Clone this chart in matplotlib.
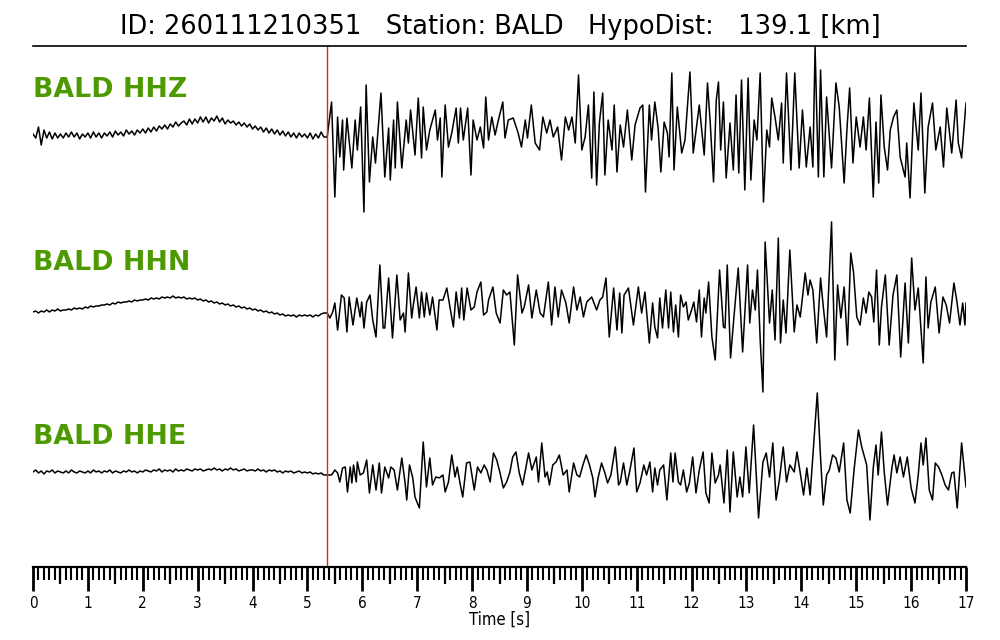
import numpy as np
import matplotlib.pyplot as plt
from matplotlib.ticker import MultipleLocator

title = "ID: 260111210351   Station: BALD   HypoDist:   139.1 [km]"
channels = ["BALD HHZ", "BALD HHN", "BALD HHE"]
pick_time = 5.36
t_end = 17
dt_noise = 0.05

# pre-event noise, one sample every 0.05 s from 0 to 5.30 s
hhz_noise = [1, -3, 8, -10, 5, -3, 3, -4, 2, -3, 1, -3, 2, -2, 3, -2, 2, -4, 1, -2,
             2, -3, 3, -2, 2, -3, 2, -1, 3, -2, 4, 0, 3, -1, 5, 1, 4, 0, 5, 2,
             6, 2, 7, 3, 8, 4, 9, 6, 10, 6, 11, 8, 13, 9, 12, 14, 10, 16, 11, 16,
             12, 18, 13, 18, 12, 17, 14, 19, 13, 17, 11, 15, 12, 14, 10, 13, 9, 12, 8, 11,
             6, 9, 5, 8, 3, 7, 2, 6, 1, 5, 0, 4, -1, 3, -2, 2, -3, 2, -2, 1,
             -3, 2, -4, 1, -3, 3, -2]
hhn_noise = [0, 1, -1, 1, 0, 2, 0, 2, 1, 3, 1, 2, 2, 3, 2, 4, 3, 4, 3, 5,
             4, 6, 5, 6, 6, 7, 7, 8, 7, 9, 8, 10, 9, 10, 10, 11, 10, 12, 11, 12,
             12, 13, 12, 14, 13, 14, 13, 15, 14, 15, 14, 16, 14, 15, 14, 15, 13, 14, 13, 14,
             12, 13, 11, 12, 10, 11, 9, 10, 8, 9, 7, 8, 6, 7, 5, 6, 4, 5, 3, 4,
             2, 3, 1, 2, 0, 1, -1, 0, -2, -1, -3, -2, -4, -3, -4, -3, -5, -3, -4, -3,
             -4, -3, -5, -3, -4, -2, -1]
hhe_noise = [0, 2, -1, 1, -2, 1, 0, 2, -1, 1, 0, -1, 1, -1, 2, 0, -1, 1, 0, -1,
             1, -1, 2, 0, 1, -1, 1, 0, 2, -1, 1, 0, -1, 1, 0, 2, 0, 1, -1, 1,
             0, 2, 1, 0, 2, 1, 3, 0, 2, 1, 2, 0, 3, 1, 2, 1, 3, 2, 1, 3,
             2, 3, 1, 2, 3, 2, 4, 2, 3, 1, 3, 2, 4, 2, 3, 1, 2, 3, 1, 2,
             2, 1, 3, 1, 2, 0, 2, 1, 2, 0, 1, -1, 1, 0, 1, -1, 0, 1, -1, 0,
             -1, 0, -2, -1, -2, -1, -3]

# after the pick: turning points (time [s], amplitude)
hhz_t = [5.36, 5.44, 5.50, 5.55, 5.59, 5.64, 5.66, 5.72, 5.81, 5.87, 5.91, 5.97, 6.03, 6.07, 6.13,
         6.19, 6.24, 6.34, 6.41, 6.48, 6.51, 6.57, 6.60, 6.64, 6.72, 6.80, 6.84, 6.88, 6.96, 7.02,
         7.08, 7.11, 7.17, 7.23, 7.33, 7.37, 7.42, 7.45, 7.51, 7.57, 7.63, 7.71, 7.75, 7.79, 7.84,
         7.92, 7.98, 8.02, 8.09, 8.15, 8.21, 8.25, 8.30, 8.36, 8.42, 8.48, 8.56, 8.60, 8.66, 8.75,
         8.84, 8.90, 8.97, 9.01, 9.08, 9.15, 9.23, 9.29, 9.36, 9.42, 9.48, 9.56, 9.63, 9.70, 9.76,
         9.82, 9.88, 9.94, 10.00, 10.06, 10.12, 10.18, 10.22, 10.27, 10.32, 10.38, 10.42, 10.48, 10.55, 10.59,
         10.64, 10.70, 10.76, 10.83, 10.91, 10.97, 11.06, 11.11, 11.16, 11.23, 11.27, 11.33, 11.39, 11.44, 11.50,
         11.56, 11.59, 11.64, 11.68, 11.74, 11.82, 11.88, 11.97, 12.03, 12.09, 12.14, 12.23, 12.29, 12.34, 12.40,
         12.45, 12.49, 12.53, 12.58, 12.63, 12.70, 12.76, 12.81, 12.86, 12.91, 12.97, 13.03, 13.08, 13.14, 13.19,
         13.25, 13.31, 13.37, 13.42, 13.46, 13.52, 13.58, 13.64, 13.67, 13.73, 13.81, 13.88, 13.96, 14.02, 14.09,
         14.16, 14.21, 14.25, 14.31, 14.35, 14.41, 14.46, 14.55, 14.63, 14.69, 14.78, 14.83, 14.88, 14.94, 15.00,
         15.07, 15.13, 15.18, 15.24, 15.31, 15.36, 15.41, 15.45, 15.51, 15.57, 15.62, 15.68, 15.74, 15.80, 15.89,
         15.92, 15.98, 16.05, 16.13, 16.18, 16.25, 16.31, 16.39, 16.45, 16.53, 16.59, 16.65, 16.74, 16.82, 16.86,
         16.92, 17.00]
hhz_a = [-2, 33, -62, 18, -22, 15, -35, 17, -33, 15, -15, 28, -77, 50, -47,
         -2, -28, 42, -42, 7, -45, 15, -33, 33, -33, 15, -8, 25, -20, 37,
         -23, 28, -15, 5, 25, -5, 17, -42, 30, -12, 2, 27, -8, 27, -5,
         27, -40, 15, -5, 8, -13, 38, -5, 18, 0, 15, 33, -3, 15, 17,
         2, -12, 15, -3, 30, -8, -15, 18, 2, 15, -2, 8, -25, 18, 5,
         18, -8, 60, -15, -2, 30, -43, 43, -50, 12, 42, -40, 15, -15, 30,
         -37, 10, -12, 25, -25, 10, 27, 30, -57, 30, -5, 33, 7, -37, 13,
         2, -22, 62, -35, 28, -18, -5, 63, -18, 8, 30, -20, 52, 12, -47,
         35, 53, -15, 33, -43, 12, -35, 40, -38, 55, -55, 57, -45, 15, -5,
         62, -67, 5, -12, 37, 18, -5, 32, -28, 62, -35, 62, -33, 25, -32,
         8, -32, 88, -42, 65, -42, 38, -33, 52, 28, -48, 5, 47, -28, 18,
         -12, 18, -15, 37, -62, 13, -48, 40, -12, -35, 5, 18, 25, -22, -42,
         -8, -63, 32, -15, 42, -58, 8, 32, -15, 8, -32, 27, -18, 35, -8,
         -23, 32]

hhn_t = [5.36, 5.41, 5.46, 5.50, 5.55, 5.59, 5.62, 5.67, 5.72, 5.76, 5.83, 5.90, 5.96, 5.99, 6.03,
         6.08, 6.14, 6.19, 6.25, 6.32, 6.38, 6.41, 6.48, 6.55, 6.63, 6.69, 6.75, 6.78, 6.84, 6.90,
         6.93, 6.98, 7.04, 7.08, 7.13, 7.17, 7.23, 7.28, 7.36, 7.40, 7.47, 7.54, 7.60, 7.66, 7.71,
         7.77, 7.81, 7.85, 7.91, 7.98, 8.04, 8.09, 8.16, 8.21, 8.27, 8.30, 8.38, 8.44, 8.51, 8.57,
         8.63, 8.69, 8.77, 8.83, 8.91, 8.95, 9.03, 9.09, 9.17, 9.24, 9.30, 9.39, 9.45, 9.51, 9.57,
         9.63, 9.71, 9.77, 9.85, 9.91, 9.97, 10.03, 10.09, 10.18, 10.27, 10.33, 10.38, 10.44, 10.50, 10.58,
         10.64, 10.69, 10.73, 10.77, 10.85, 10.94, 11.03, 11.09, 11.15, 11.23, 11.29, 11.33, 11.38, 11.42, 11.47,
         11.53, 11.58, 11.62, 11.67, 11.71, 11.76, 11.80, 11.85, 11.90, 11.94, 12.00, 12.04, 12.09, 12.14, 12.18,
         12.23, 12.26, 12.31, 12.37, 12.43, 12.51, 12.58, 12.61, 12.65, 12.71, 12.77, 12.85, 12.93, 13.02, 13.06,
         13.11, 13.16, 13.20, 13.25, 13.30, 13.34, 13.42, 13.47, 13.52, 13.58, 13.62, 13.67, 13.72, 13.79, 13.87,
         13.92, 13.98, 14.07, 14.12, 14.16, 14.21, 14.28, 14.35, 14.40, 14.46, 14.55, 14.61, 14.66, 14.72, 14.78,
         14.84, 14.90, 14.95, 15.01, 15.07, 15.13, 15.18, 15.23, 15.28, 15.32, 15.37, 15.42, 15.46, 15.53, 15.60,
         15.67, 15.74, 15.81, 15.89, 15.95, 16.01, 16.07, 16.13, 16.22, 16.27, 16.31, 16.36, 16.44, 16.51, 16.58,
         16.64, 16.70, 16.78, 16.83, 16.89, 16.94, 16.98, 17.00]
hhn_a = [-1, -6, 0, 9, -18, 2, 17, 14, -20, 15, -13, 14, -5, 10, -16,
         10, 17, -8, -25, 47, -16, -16, 34, -26, 37, -8, -1, -20, 39, -6,
         7, 25, -6, 20, -5, 19, -3, 15, -18, 12, 12, 24, 4, -15, 20,
         -6, 24, -8, 24, 2, 5, 20, 30, -3, 0, 12, 25, -1, -11, 22,
         17, 20, -33, 37, -1, 5, 27, -6, 22, -1, -5, 30, -13, 25, -5,
         22, 9, -11, 25, 2, 15, -5, 10, 15, 2, 12, 15, 34, -25, 24,
         -18, 19, -21, 17, 24, -13, 25, -1, 20, -31, 9, -15, -26, 14, -16,
         22, -16, 20, -20, 7, -25, 17, 5, 10, -8, 2, 10, -10, 22, -25,
         14, -1, 30, -25, -48, 42, -15, -16, 47, -46, -6, 44, -40, 47, -11,
         22, 2, 42, -28, -80, 70, -11, 22, -28, 74, -31, 12, -21, 62, -20,
         7, -5, 39, 17, 32, 22, -31, 34, 5, -25, 90, -48, 27, -6, 25,
         -33, 59, 40, -5, -13, 14, -1, 20, 15, -10, 42, -33, 5, 37, -33,
         17, 37, -45, 29, -31, 54, 2, 24, -51, 35, -16, 10, 25, -21, 15,
         7, -11, 29, 12, -13, 9, -13, 9]

hhe_t = [5.36, 5.44, 5.50, 5.55, 5.59, 5.64, 5.69, 5.73, 5.78, 5.81, 5.84, 5.89, 5.91, 5.96, 6.02,
         6.08, 6.13, 6.19, 6.25, 6.31, 6.35, 6.41, 6.48, 6.52, 6.58, 6.64, 6.72, 6.78, 6.81, 6.86,
         6.92, 6.96, 7.04, 7.11, 7.17, 7.23, 7.28, 7.34, 7.40, 7.47, 7.51, 7.57, 7.63, 7.69, 7.73,
         7.78, 7.83, 7.90, 7.96, 8.04, 8.10, 8.16, 8.22, 8.27, 8.33, 8.39, 8.45, 8.51, 8.57, 8.63,
         8.69, 8.74, 8.80, 8.86, 8.92, 8.98, 9.03, 9.09, 9.17, 9.21, 9.27, 9.33, 9.37, 9.41, 9.47,
         9.53, 9.59, 9.66, 9.73, 9.77, 9.85, 9.91, 9.96, 10.02, 10.08, 10.14, 10.20, 10.24, 10.30, 10.36,
         10.42, 10.47, 10.53, 10.61, 10.67, 10.70, 10.76, 10.82, 10.87, 10.95, 11.00, 11.06, 11.13, 11.18, 11.24,
         11.29, 11.33, 11.38, 11.42, 11.49, 11.55, 11.62, 11.66, 11.70, 11.76, 11.80, 11.85, 11.91, 11.96, 12.02,
         12.08, 12.14, 12.21, 12.26, 12.32, 12.37, 12.43, 12.49, 12.52, 12.59, 12.65, 12.70, 12.76, 12.83, 12.88,
         12.93, 12.99, 13.05, 13.13, 13.22, 13.30, 13.36, 13.42, 13.48, 13.54, 13.60, 13.67, 13.73, 13.79, 13.87,
         13.92, 13.98, 14.04, 14.10, 14.16, 14.22, 14.29, 14.35, 14.40, 14.46, 14.51, 14.57, 14.63, 14.69, 14.77,
         14.83, 14.89, 14.96, 15.04, 15.10, 15.19, 15.25, 15.31, 15.36, 15.40, 15.46, 15.51, 15.57, 15.65, 15.69,
         15.74, 15.80, 15.86, 15.93, 16.00, 16.07, 16.13, 16.18, 16.22, 16.27, 16.33, 16.39, 16.44, 16.50, 16.56,
         16.62, 16.68, 16.74, 16.78, 16.84, 16.92, 17.00]
hhe_a = [-3, -3, 2, -1, -10, 4, 5, -20, 5, -11, 7, -10, 10, -3, -1,
         12, -21, 7, -18, 9, -21, 5, -6, 5, 2, -18, 14, -11, -28, 7,
         -6, -25, -36, 30, -15, 14, -13, -5, -6, -3, -20, -10, 17, -5, 5,
         -11, -25, 9, 10, -18, 5, -1, 7, 2, -10, 19, 12, -1, -16, -10,
         0, 15, 20, -1, -13, 4, 19, 2, 15, -10, 29, -5, 0, -13, 7,
         10, 17, -3, 2, -20, 9, -3, -5, 7, 17, 7, -6, -25, -5, 9,
         -1, -11, -3, 25, -13, -10, 9, -13, 0, 24, -20, -11, 7, -3, 10,
         -20, 4, -13, 2, 7, -28, 19, -10, 19, -10, -13, 2, -20, -11, 15,
         -21, 2, 20, -21, -31, 19, -11, -3, 7, -31, 22, -40, 20, -25, -5,
         -25, 25, -21, 47, -46, 10, 19, -5, 29, -28, -8, 25, -10, 7, 0,
         20, -1, -23, 4, -23, 24, 79, 14, -33, -3, 2, 17, 14, 0, 29,
         -28, -41, 2, 42, 25, 7, -48, 4, 27, -3, 40, 0, -33, 4, 17,
         -1, 15, -5, 15, -16, -31, -3, 29, 7, 34, -18, -28, 9, 5, -3,
         -13, -18, -1, 0, -36, 29, -15]

noise = [hhz_noise, hhn_noise, hhe_noise]
times = [hhz_t, hhn_t, hhe_t]
amps = [hhz_a, hhn_a, hhe_a]

# layout: y in pixels above the time axis
baselines = [432, 255, 95]
label_y = [477, 304, 130]

fig = plt.figure(figsize=(10, 6.4), dpi=100)
ax = fig.add_axes([0.033, 0.1141, 0.933, 0.814])

for k in range(3):
    t_noise = np.arange(len(noise[k])) * dt_noise
    t = np.concatenate([t_noise, times[k]])
    a = np.concatenate([noise[k], amps[k]])
    ax.plot(t, baselines[k] + a, color='black', lw=1.1)
    ax.text(0, label_y[k], channels[k], color='#4c9a00', fontsize=19.3,
            fontweight='bold', va='center', ha='left')

ax.axvline(pick_time, color='#e8211c', lw=1.0)

ax.set_xlim(0, t_end)
ax.set_ylim(0, 521)
ax.set_yticks([])
ax.spines['left'].set_visible(False)
ax.spines['right'].set_visible(False)
ax.spines['top'].set_linewidth(1.2)
ax.spines['bottom'].set_linewidth(1.6)

ax.xaxis.set_major_locator(MultipleLocator(1))
ax.xaxis.set_minor_locator(MultipleLocator(0.1))
ax.tick_params(axis='x', which='major', direction='out', length=17, width=2, pad=4, labelsize=11)
ax.tick_params(axis='x', which='minor', direction='out', length=9, width=1.5)
for lab in ax.get_xticklabels():
    lab.set_fontstretch('condensed')

half = ax.secondary_xaxis('bottom')
half.set_xticks(np.arange(0.5, t_end, 1))
half.set_xticklabels([])
half.tick_params(direction='out', length=12, width=1.6)
half.spines['bottom'].set_visible(False)

ax.set_xlabel('Time [s]', fontsize=12, fontstretch='condensed', labelpad=0)
fig.text(0.5, 0.958, title, ha='center', va='center', fontsize=18.5)

fig.savefig('out.png', dpi=100)
